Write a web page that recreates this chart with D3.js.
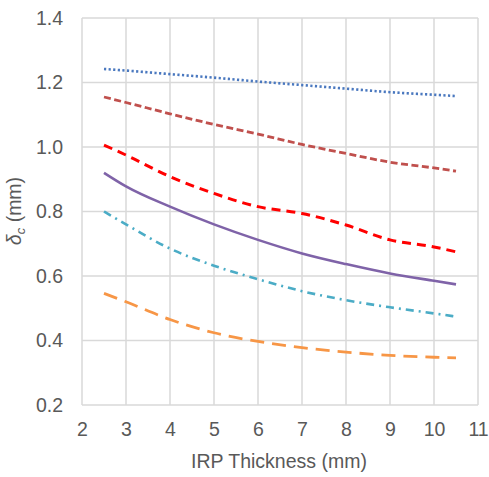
<!DOCTYPE html>
<html><head><meta charset="utf-8">
<script src="https://cdn.jsdelivr.net/npm/d3@7"></script>
<style>body{margin:0;background:#fff}svg{display:block}</style>
</head><body><svg id="c" width="489" height="477"></svg>
<script>
const xs = [2.5,3,4,5,6,7,8,9,10,10.5];
const blueDotted  = [1.242,1.237,1.226,1.215,1.203,1.192,1.181,1.170,1.162,1.158];
const brownDashed = [1.155,1.138,1.103,1.070,1.040,1.008,0.980,0.953,0.935,0.925];
const redDashed   = [1.006,0.975,0.908,0.856,0.815,0.794,0.758,0.712,0.690,0.675];
const purpleSolid = [0.920,0.878,0.815,0.760,0.712,0.670,0.637,0.608,0.585,0.574];
const cyanDashDot = [0.800,0.760,0.685,0.632,0.590,0.553,0.525,0.503,0.484,0.474];
const orangeLongDash = [0.546,0.520,0.465,0.424,0.397,0.378,0.364,0.354,0.348,0.346];
const xTicks = [2,3,4,5,6,7,8,9,10,11];
const yTicks = [0.2,0.4,0.6,0.8,1.0,1.2,1.4];

const series = [
  {v: blueDotted, color:"#4a78bf", dash:"2.2,2.4", w:2.6},
  {v: brownDashed, color:"#c0504d", dash:"7,3.5", w:2.8},
  {v: redDashed, color:"#ff0000", dash:"9,6", w:3},
  {v: purpleSolid, color:"#7f63a8", dash:null, w:2.6},
  {v: cyanDashDot, color:"#4bacc6", dash:"8,5,2,5", w:2.6},
  {v: orangeLongDash, color:"#f79646", dash:"14,8", w:2.8}
];

const svg = d3.select("#c");
const x = d3.scaleLinear().domain([2,11]).range([82,478]);
const y = d3.scaleLinear().domain([0.2,1.4]).range([405,18]);
const font = "'Liberation Sans', Arial, sans-serif";
const grey = "#595959";
const fs = 19.5;

// grid
svg.append("g").selectAll("line").data(yTicks).join("line")
  .attr("x1", x(2)).attr("x2", x(11)).attr("y1", d=>y(d)).attr("y2", d=>y(d))
  .attr("stroke", "#d9d9d9").attr("stroke-width", 1.5);
svg.append("g").selectAll("line").data(xTicks).join("line")
  .attr("x1", d=>x(d)).attr("x2", d=>x(d)).attr("y1", y(0.2)).attr("y2", y(1.4))
  .attr("stroke", "#d9d9d9").attr("stroke-width", 1.5);

// axes labels via d3 axes
const xAxis = svg.append("g").attr("transform", `translate(0,${y(0.2)})`)
  .call(d3.axisBottom(x).tickValues(xTicks).tickSize(0).tickPadding(14).tickFormat(d3.format("d")));
xAxis.select(".domain").remove();
xAxis.selectAll("text").attr("font-family", font).attr("font-size", fs).attr("fill", grey)
  .attr("dy", null).attr("y", 31);

const yAxis = svg.append("g").attr("transform", `translate(${x(2)},0)`)
  .call(d3.axisLeft(y).tickValues(yTicks).tickSize(0).tickPadding(19).tickFormat(d3.format(".1f")));
yAxis.select(".domain").remove();
yAxis.selectAll("text").attr("font-family", font).attr("font-size", fs).attr("fill", grey);

// lines
const line = d3.line().x((d,i)=>x(xs[i])).y(d=>y(d)).curve(d3.curveMonotoneX);
series.forEach(s=>{
  svg.append("path").datum(s.v).attr("d", line)
    .attr("fill","none").attr("stroke", s.color).attr("stroke-width", s.w)
    .attr("stroke-dasharray", s.dash);
});

// titles
svg.append("text").attr("x", 279).attr("y", 468).attr("text-anchor","middle")
  .attr("font-family", font).attr("font-size", fs).attr("fill", grey).text("IRP Thickness (mm)");
const yt = svg.append("text").attr("transform","translate(21,211) rotate(-90)").attr("text-anchor","middle")
  .attr("font-family", font).attr("font-size", fs).attr("fill", grey);
yt.append("tspan").attr("font-style","italic").text("δ");
yt.append("tspan").attr("font-style","italic").attr("font-size", 13).attr("dy", 4).text("c");
yt.append("tspan").attr("dy", -4).text(" (mm)");
</script></body></html>
